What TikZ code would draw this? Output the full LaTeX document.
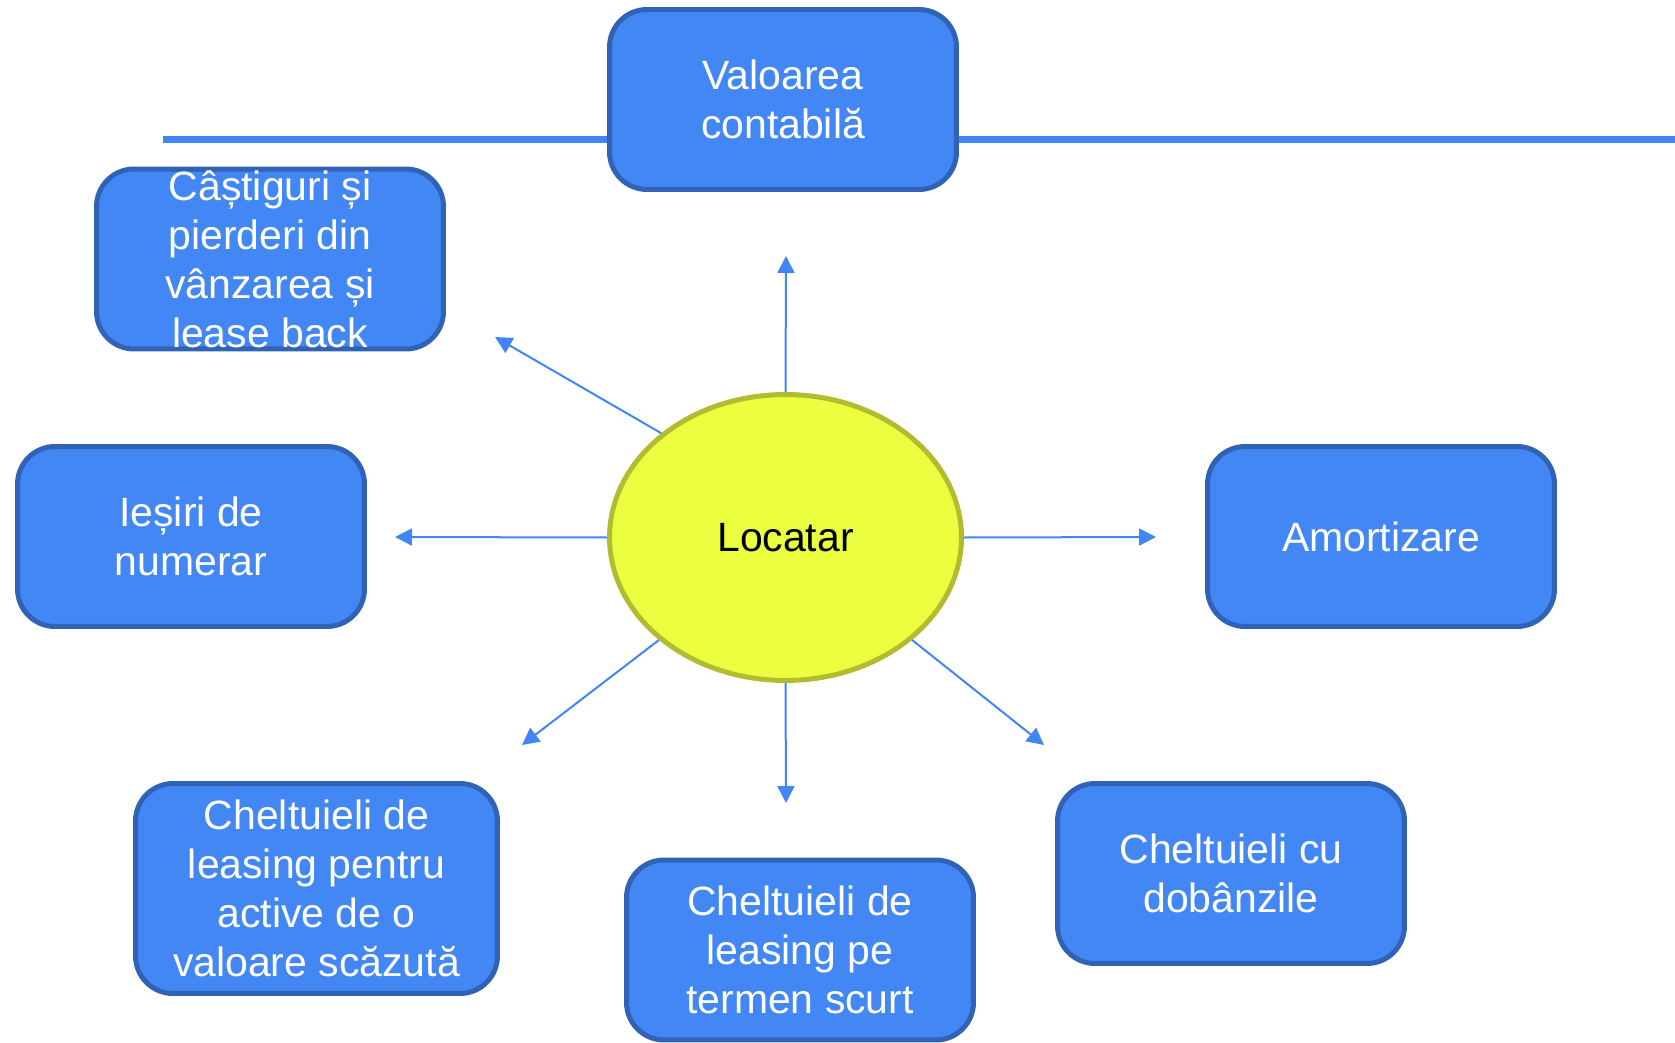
\documentclass[tikz,border=0pt]{standalone}
\usepackage{fontspec}
\setmainfont{Liberation Sans}
\usepackage{tikz}
\usetikzlibrary{shapes.geometric, arrows.meta}
\definecolor{boxblue}{HTML}{4387F5}
\definecolor{boxedge}{HTML}{3062B6}
\definecolor{lineblue}{HTML}{4285F4}
\definecolor{hubfill}{HTML}{EBFF40}
\definecolor{hubedge}{HTML}{B3BC30}

\begin{document}
\begin{tikzpicture}[x=0.02cm, y=-0.02cm,
        bx/.style = {draw=boxedge, fill=boxblue, line width=0.1cm, rounded corners=0.75cm, minimum width=6.94cm, minimum height=3.6cm,
                     inner sep=0pt, align=center, text=white, font=\fontsize{23.3}{27.9}\selectfont},
        hub/.style = {draw=hubedge, fill=hubfill, ellipse, line width=0.1cm, minimum width=7.04cm, minimum height=5.72cm,
                      inner sep=0pt, font=\fontsize{23.3}{27.9}\selectfont},
        spoke/.style = {draw=lineblue, line width=0.04cm, -{Triangle[length=0.34cm, width=0.34cm]}}]

        \useasboundingbox (0,0) rectangle (1675,1043);

        % Top rule
        \coordinate (ruleL) at (163,139.5); \coordinate (ruleR) at (1675,139.5);
        \draw[lineblue, line width=0.14cm] (ruleL) -- (ruleR);

        % Boxes
        \node[bx] (val) at (783,99.5) {Valoarea\\contabilă};
        \node[bx] (cast) at (270,259) {Câștiguri și\\pierderi din\\vânzarea și\\lease back};
        \node[bx] (ies) at (191,536.5) {Ieșiri de\\numerar};
        \node[bx] (amort) at (1381,536.5) {Amortizare};
        \node[bx, minimum width=7.24cm, minimum height=4.2cm] (activ) at (316.5,888.5) {Cheltuieli de\\leasing pentru\\active de o\\valoare scăzută};
        \node[bx] (scurt) at (800,950) {Cheltuieli de\\leasing pe\\termen scurt};
        \node[bx] (dob) at (1231,873.5) {Cheltuieli cu\\dobânzile};

        % Centre
        \node[hub] (loc) at (785.5,537.5) {Locatar};

        % Arrow tips
        \coordinate (tUp) at (786,256); \coordinate (tUL) at (495,337);
        \coordinate (tL) at (395,537); \coordinate (tR) at (1156,537);
        \coordinate (tDL) at (522,745); \coordinate (tD) at (786,803);
        \coordinate (tDR) at (1044,745);

        \draw[spoke] (loc.90) -- (tUp);
        \draw[spoke] (loc.140.5) -- (tUL);
        \draw[spoke] (loc.180) -- (tL);
        \draw[spoke] (loc.0) -- (tR);
        \draw[spoke] (loc.219.2) -- (tDL);
        \draw[spoke] (loc.270) -- (tD);
        \draw[spoke] (loc.321.3) -- (tDR);
    \end{tikzpicture}
\end{document}
